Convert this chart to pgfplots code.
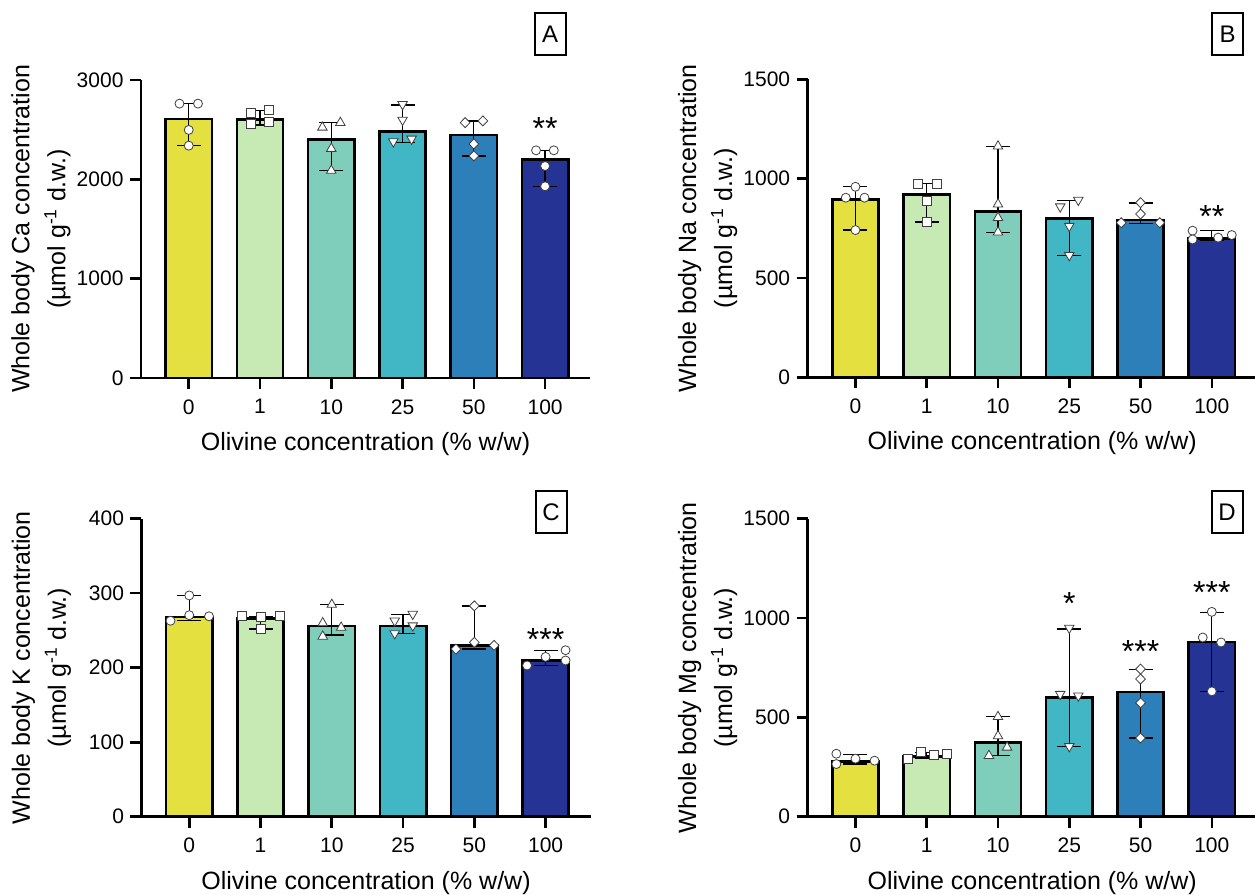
\documentclass[border=0pt]{standalone}
\usepackage{fontspec}
\setmainfont{Liberation Sans}
\usepackage{pgfplots}
\pgfplotsset{compat=1.18}

% bar fills, 0 to 100 % w/w olivine
\definecolor{c0}{RGB}{227,224,63}
\definecolor{c1}{RGB}{199,233,180}
\definecolor{c2}{RGB}{127,205,187}
\definecolor{c3}{RGB}{65,182,196}
\definecolor{c4}{RGB}{44,127,184}
\definecolor{c5}{RGB}{37,52,148}

\newcommand{\ticksize}{\fontsize{21}{25}\selectfont}
\newcommand{\labsize}{\fontsize{25}{36}\selectfont}

\pgfplotsset{
  panel/.style={
    scale only axis, width=449pt, height=298pt,
    anchor=south west,
    axis x line*=bottom, axis y line*=left,
    axis line style={line width=2.6pt},
    xmin=-0.67, xmax=5.63, ymin=0,
    xtick={0,...,5}, xticklabels={0,1,10,25,50,100},
    tick align=outside, major tick length=11pt,
    every tick/.style={line width=2.6pt, black},
    tick label style={font=\ticksize},
    xticklabel style={yshift=-7pt},
    yticklabel style={xshift=-3pt},
    /pgf/number format/assume math mode=true,
    /pgf/number format/set thousands separator={},
    scaled y ticks=false,
    label style={font=\labsize},
    xlabel={Olivine concentration (\% w/w)},
    xlabel style={at={(axis description cs:0.5,-0.2427)}, anchor=base},
    ylabel style={at={(axis description cs:-0.2228,0.5)}, anchor=center, align=center},
    clip=false,
  },
  dots/.style={only marks, mark size=4.5pt,
    mark options={fill=white, draw=black!75, line width=0.8pt}},
  circ/.style={dots, mark=*},
  sq/.style={dots, mark=square*},
  tri/.style={dots, mark=triangle*, mark size=5.5pt},
  trid/.style={dots, mark=triangle*, mark size=5.5pt,
    mark options={fill=white, draw=black!75, line width=0.8pt, rotate=180}},
  dia/.style={dots, mark=diamond*, mark size=5pt,
    mark options={fill=white, draw=black!75, line width=0.8pt, xscale=1.3}},
}

% one bar: colour, x, mean, upper extent, lower extent
\newcommand{\gbar}[5]{%
  \addplot[ybar, bar width=0.65, bar shift=0pt, fill=#1, draw=black, line width=2.6pt,
    error bars/.cd, y dir=both, y explicit,
    error bar style={line width=1.3pt, black},
    error mark options={rotate=90, line width=1.3pt, black, mark size=12pt}]
    coordinates {(#2,#3) += (0,#4) -= (0,#5)};}

\newcommand{\stars}[3]{\node[font=\fontsize{32}{32}\selectfont, anchor=base, yshift=-18pt] at (axis cs:#1,#2) {#3};}

\begin{document}
\begin{tikzpicture}
\path[use as bounding box] (0pt,0pt) rectangle (1255pt,894pt);

% ---------------- A: calcium
\begin{axis}[panel, at={(141pt,516pt)}, ymax=3000, ytick={0,1000,2000,3000},
  ylabel={Whole body Ca concentration\\(µmol g\textsuperscript{-1} d.w.)}]
\gbar{c0}{0}{2608}{154}{269}
\addplot[circ] coordinates {(-0.13,2762) (0.13,2762) (0,2497) (0,2339)};
\gbar{c1}{1}{2605}{87}{57}
\addplot[sq] coordinates {(0.873,2666) (1.127,2699) (0.873,2554) (1.127,2581)};
\gbar{c2}{2}{2403}{168}{315}
\addplot[tri] coordinates {(1.875,2523) (2.127,2570) (2,2309) (2,2088)};
\gbar{c3}{3}{2483}{266}{113}
\addplot[trid] coordinates {(3,2755) (3,2598) (2.87,2380) (3.127,2407)};
\gbar{c4}{4}{2447}{141}{211}
\addplot[dia] coordinates {(3.878,2571) (4.127,2588) (4,2356) (4,2236)};
\gbar{c5}{5}{2202}{90}{272}
\addplot[circ] coordinates {(4.873,2292) (5.122,2292) (5,2134) (5,1930)};
\stars{5}{2580}{**}
\end{axis}

% ---------------- B: sodium
\begin{axis}[panel, at={(807.7pt,516.7pt)}, ymax=1500, ytick={0,500,1000,1500},
  ylabel={Whole body Na concentration\\(µmol g\textsuperscript{-1} d.w.)}]
\gbar{c0}{0}{896}{63}{155}
\addplot[circ] coordinates {(0,959) (-0.136,904) (0.127,904) (0,741)};
\gbar{c1}{1}{921}{53}{139}
\addplot[sq] coordinates {(0.883,971) (1.136,974) (1,887) (1,782)};
\gbar{c2}{2}{834}{329}{104}
\addplot[tri] coordinates {(2,1163) (2,871) (2,803) (2,730)};
\gbar{c3}{3}{800}{89}{186}
\addplot[trid] coordinates {(2.873,859) (3.127,892) (3,761) (3,614)};
\gbar{c4}{4}{792}{85}{17}
\addplot[dia] coordinates {(4,879) (4,822) (3.73,778) (4.27,778)};
\gbar{c5}{5}{700}{38}{9}
\addplot[circ] coordinates {(4.73,738) (4.73,694) (5.09,703) (5.28,716)};
\stars{5}{847}{**}
\end{axis}

% ---------------- C: potassium
\begin{axis}[panel, at={(141.5pt,77.3pt)}, ymax=400, ytick={0,100,200,300,400},
  ylabel={Whole body K concentration\\(µmol g\textsuperscript{-1} d.w.)}]
\gbar{c0}{0}{268}{29}{5}
\addplot[circ] coordinates {(0,297) (0,270.5) (-0.263,263) (0.277,269)};
\gbar{c1}{1}{266}{3}{14}
\addplot[sq] coordinates {(0.737,269) (1,268) (1.272,269) (1,251.6)};
\gbar{c2}{2}{256}{29}{12}
\addplot[tri] coordinates {(2,284.7) (1.873,260) (2.131,254) (1.873,242)};
\gbar{c3}{3}{256}{15}{10}
\addplot[trid] coordinates {(2.883,263) (3.136,272) (3.136,256.5) (2.883,246)};
\gbar{c4}{4}{230}{53}{5}
\addplot[dia] coordinates {(4,283) (4,234) (3.742,225) (4.277,230)};
\gbar{c5}{5}{210}{13}{7}
\addplot[circ] coordinates {(5,214.5) (5.28,223.5) (5.28,209.7) (4.74,203)};
\stars{5}{247}{***}
\end{axis}

% ---------------- D: magnesium
\begin{axis}[panel, at={(807.7pt,77.3pt)}, ymax=1500, ytick={0,500,1000,1500},
  ylabel={Whole body Mg concentration\\(µmol g\textsuperscript{-1} d.w.)}]
\gbar{c0}{0}{277}{37}{12}
\addplot[circ] coordinates {(-0.268,317) (-0.268,265) (0,292) (0.268,282)};
\gbar{c1}{1}{302}{20}{8}
\addplot[sq] coordinates {(0.742,292) (0.915,325) (1.099,309) (1.277,317)};
\gbar{c2}{2}{374}{131}{67}
\addplot[tri] coordinates {(2,503) (2,406) (2.127,349) (1.873,307)};
\gbar{c3}{3}{599}{346}{247}
\addplot[trid] coordinates {(2.873,617) (3.127,609) (3,950) (3,354)};
\gbar{c4}{4}{627}{114}{231}
\addplot[dia] coordinates {(4,743) (4,693) (4,573) (4,396)};
\gbar{c5}{5}{880}{148}{249}
\addplot[circ] coordinates {(5,1031) (4.873,902) (5.13,877) (5,631)};
\stars{3}{1107}{*}
\stars{4}{867}{***}
\stars{5}{1166}{***}
\end{axis}

% panel letters
\foreach \px/\py/\lab in {550/860/A, 1227.5/860/B, 551/381.5/C, 1227/381.5/D}
  \node[draw, line width=2pt, minimum width=31pt, minimum height=42pt, inner sep=0pt,
        font=\fontsize{24}{24}\selectfont] at (\px pt,\py pt) {\lab};
\end{tikzpicture}
\end{document}
